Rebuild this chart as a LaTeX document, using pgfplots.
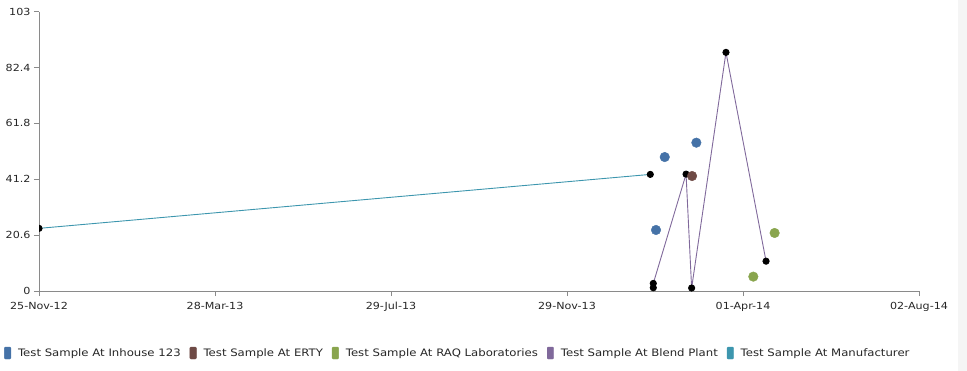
\documentclass[border=0pt]{standalone}
\usepackage{pgfplots}
\pgfplotsset{compat=1.18}
\usepackage{fontspec}
\setmainfont[FakeStretch=1.14]{DejaVu Sans}
\definecolor{cInhouse}{HTML}{4572A7}
\definecolor{cErty}{HTML}{6E4A45}
\definecolor{cRaq}{HTML}{89A54E}
\definecolor{cBlend}{HTML}{80699B}
\definecolor{cManu}{HTML}{3D96AE}
\definecolor{axgray}{HTML}{8A8A8A}
\begin{document}
\begin{tikzpicture}
\path[use as bounding box] (-39bp,-80bp) rectangle (928bp,291bp);
\fill[black!4] (919bp,-80bp) rectangle (928bp,291bp);
\begin{axis}[
  at={(0,0)}, anchor=origin,
  scale only axis, width=880bp, height=279.3bp,
  xmin=0, xmax=615, ymin=0, ymax=103,
  axis x line*=bottom, axis y line*=left,
  axis line style={axgray, line width=0.8bp},
  tick style={axgray, line width=0.8bp},
  tick align=outside, major tick length=5bp,
  xtick={0,123,246,369,492,615},
  xticklabels={25-Nov-12,28-Mar-13,29-Jul-13,29-Nov-13,01-Apr-14,02-Aug-14},
  ytick={0,20.6,41.2,61.8,82.4,103},
  yticklabels={0,20.6,41.2,61.8,82.4,103},
  /pgf/number format/assume math mode=true,
  ticklabel style={font=\fontsize{9.8}{11}\selectfont, text=black!85},
  xticklabel style={yshift=-3bp},
  clip marker paths=true,
  legend columns=-1,
  legend style={at={(-0.0432,-0.222)}, anchor=west, draw=none, fill=none,
    font=\fontsize{10.3}{11}\selectfont, text=black!85,
    /tikz/every odd column/.append style={column sep=5bp},
    /tikz/every even column/.append style={column sep=7bp}},
]
% Manufacturer
\addplot[cManu, line width=0.9bp, mark=*, mark size=3.1bp, mark options={fill=black, draw=black}, forget plot]
  coordinates {(0,23.1) (427.2,43.0)};
% Blend Plant
\addplot[cBlend, line width=0.9bp, mark=*, mark size=3.1bp, mark options={fill=black, draw=black}, forget plot]
  coordinates {(429.3,1.2) (429.3,2.8) (452.2,43.1) (456.1,1.1) (480.1,88.0) (508.1,11.0)};
% Inhouse 123
\addplot[only marks, mark=*, mark size=4.8bp, cInhouse, mark options={fill=cInhouse, draw=cInhouse}, forget plot]
  coordinates {(431.2,22.5) (437.3,49.4) (459.4,54.7)};
% ERTY
\addplot[only marks, mark=*, mark size=4.8bp, cErty, mark options={fill=cErty, draw=cErty}, forget plot]
  coordinates {(456.4,42.4)};
% RAQ
\addplot[only marks, mark=*, mark size=4.8bp, cRaq, mark options={fill=cRaq, draw=cRaq}, forget plot]
  coordinates {(499.2,5.3) (514.1,21.4)};
\addlegendimage{legend image code/.code={\fill[cInhouse, rounded corners=1bp] (0,-6bp) rectangle (6.5bp,6bp);}}
\addlegendentry{Test Sample At Inhouse 123}
\addlegendimage{legend image code/.code={\fill[cErty, rounded corners=1bp] (0,-6bp) rectangle (6.5bp,6bp);}}
\addlegendentry{Test Sample At ERTY}
\addlegendimage{legend image code/.code={\fill[cRaq, rounded corners=1bp] (0,-6bp) rectangle (6.5bp,6bp);}}
\addlegendentry{Test Sample At RAQ Laboratories}
\addlegendimage{legend image code/.code={\fill[cBlend, rounded corners=1bp] (0,-6bp) rectangle (6.5bp,6bp);}}
\addlegendentry{Test Sample At Blend Plant}
\addlegendimage{legend image code/.code={\fill[cManu, rounded corners=1bp] (0,-6bp) rectangle (6.5bp,6bp);}}
\addlegendentry{Test Sample At Manufacturer}
\end{axis}
\end{tikzpicture}
\end{document}
